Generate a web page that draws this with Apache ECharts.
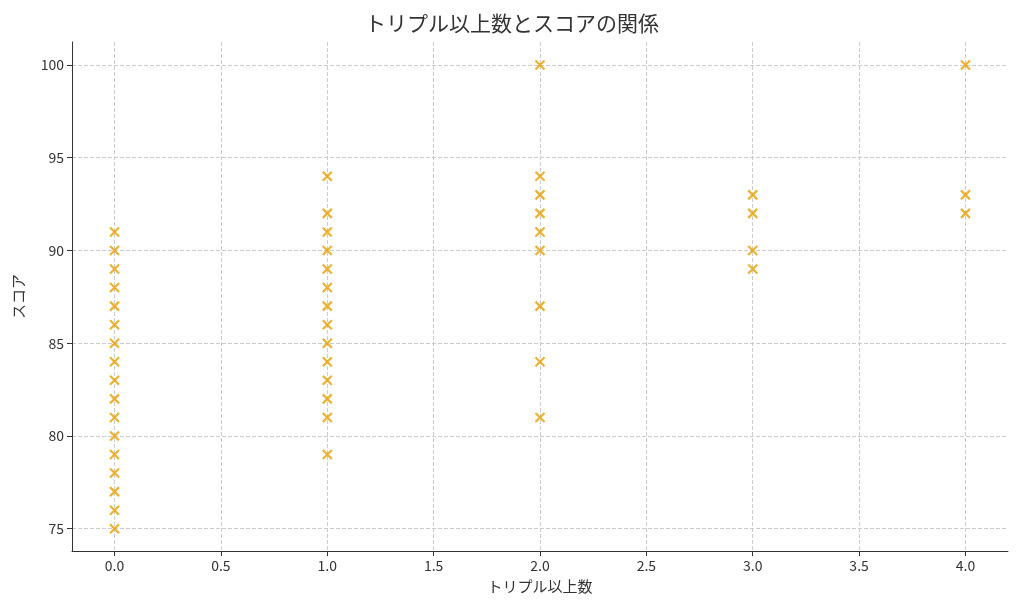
<!DOCTYPE html>
<html><head><meta charset="utf-8">
<script src="https://cdn.jsdelivr.net/npm/echarts@6/dist/echarts.min.js"></script>
<style>html,body{margin:0;background:#fff}#c{width:1024px;height:614px}</style>
</head><body><div id="c"></div>
<script>
var triples = [0, 1, 2, 3, 4];
var scores0 = [75,76,77,78,79,80,81,82,83,84,85,86,87,88,89,90,91];
var scores1 = [79,81,82,83,84,85,86,87,88,89,90,91,92,94];
var scores2 = [81,84,87,90,91,92,93,94,100];
var scores3 = [89,90,92,93];
var scores4 = [92,93,100];
var xTicks = [0,0.5,1,1.5,2,2.5,3,3.5,4];
var yTicks = [75,80,85,90,95,100];

var all = [scores0, scores1, scores2, scores3, scores4];
var data = [];
all.forEach(function (s, i) {
  s.forEach(function (v) { data.push([triples[i], v]); });
});

var font = '"Noto Sans CJK JP","Noto Sans",sans-serif';
var chart = echarts.init(document.getElementById('c'));
chart.setOption({
  animation: false,
  title: { text: 'トリプル以上数とスコアの関係', left: 'center', top: 8,
    textStyle: { fontFamily: font, fontSize: 21, fontWeight: 'normal', color: '#333' } },
  grid: { left: 72, right: 16, top: 42, bottom: 63 },
  xAxis: {
    type: 'value', min: -0.2, max: 4.2,
    name: 'トリプル以上数', nameLocation: 'middle', nameGap: 28,
    nameTextStyle: { fontFamily: font, fontSize: 15, color: '#333' },
    axisLine: { onZero: false, lineStyle: { color: '#333' } },
    axisTick: { show: true, customValues: xTicks, lineStyle: { color: '#333' } },
    axisLabel: { customValues: xTicks, formatter: function (v) { return v.toFixed(1); },
      fontFamily: font, fontSize: 14, color: '#333' },
    splitLine: { show: true, lineStyle: { type: 'dashed', color: '#ccc' } }
  },
  yAxis: {
    type: 'value', min: 73.8, max: 101.24,
    name: 'スコア', nameLocation: 'middle', nameGap: 46,
    nameTextStyle: { fontFamily: font, fontSize: 15, color: '#333' },
    axisLine: { show: true, onZero: false, lineStyle: { color: '#333' } },
    axisTick: { show: true, customValues: yTicks, lineStyle: { color: '#333' } },
    axisLabel: { customValues: yTicks, fontFamily: font, fontSize: 14, color: '#333' },
    splitLine: { show: true, lineStyle: { type: 'dashed', color: '#ccc' } }
  },
  series: [{
    type: 'scatter',
    data: data,
    symbol: 'path://M0,0L10,10M10,0L0,10',
    symbolSize: 9,
    itemStyle: { color: 'none', borderColor: '#e69f00', borderWidth: 2.2 }
  }]
});
</script></body></html>
